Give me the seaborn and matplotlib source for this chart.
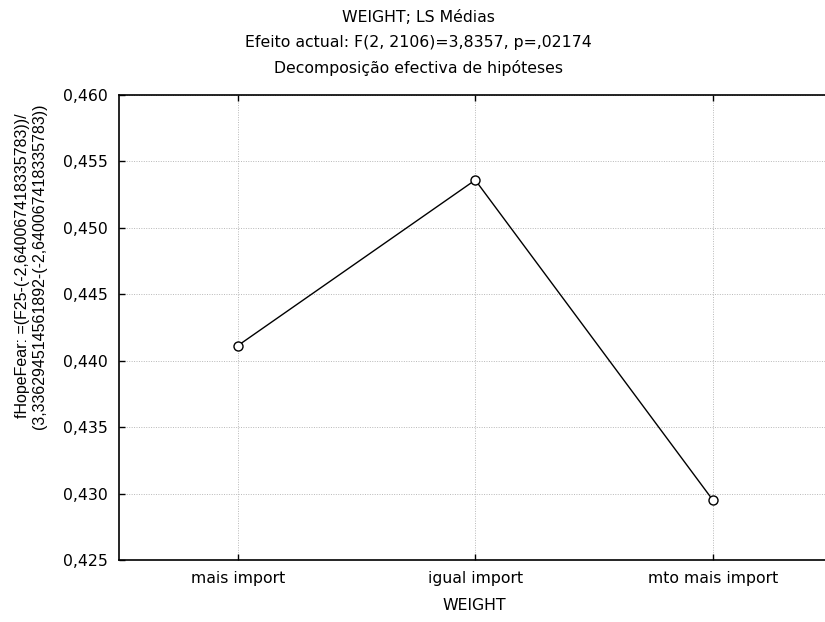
import matplotlib
matplotlib.use("Agg")
import matplotlib.pyplot as plt
import seaborn as sns
import numpy as np
import pandas as pd

# LS means of fHopeFear by WEIGHT level
categories = ["mais import", "igual import", "mto mais import"]
ls_means = [0.44113, 0.45360, 0.42952]
y_ticks = [0.425, 0.430, 0.435, 0.440, 0.445, 0.450, 0.455, 0.460]
y_tick_labels = ["0,425", "0,430", "0,435", "0,440", "0,445", "0,450", "0,455", "0,460"]

title_lines = [
    "WEIGHT; LS Médias",
    "Efeito actual: F(2, 2106)=3,8357, p=,02174",
    "Decomposição efectiva de hipóteses",
]
y_label = "fHopeFear: =(F25-(-2,640067418335783))/\n(3,336294514561892-(-2,640067418335783))"
x_label = "WEIGHT"

sns.set_theme(style="white")
plt.rcParams["font.family"] = ["DejaVu Sans"]
plt.rcParams["text.color"] = "black"
plt.rcParams["xtick.color"] = "black"
plt.rcParams["ytick.color"] = "black"
FS = 11.3

df = pd.DataFrame({"pos": np.arange(len(categories)), "mean": ls_means})

fig = plt.figure(figsize=(8.25, 6.22), dpi=100)
ax = fig.add_axes([119 / 825, 1 - 560 / 622, 712.5 / 825, 465 / 622])

sns.lineplot(data=df, x="pos", y="mean", ax=ax, color="black", linewidth=1.0,
             marker="o", markersize=6.5, markerfacecolor="white",
             markeredgecolor="black", markeredgewidth=1.0, sort=False)

ax.set_xlim(-0.5, 2.5)
ax.set_ylim(0.425, 0.460)
ax.set_xticks(df["pos"])
ax.set_xticklabels(categories, fontsize=FS)
ax.set_yticks(y_ticks)
ax.set_yticklabels(y_tick_labels, fontsize=FS)
ax.set_xlabel("")
ax.set_ylabel("")

ax.grid(True, color="#b8b8b8", linestyle=(0, (1, 1.5)), linewidth=0.7)
ax.tick_params(direction="in", length=4, width=1, color="black",
               top=True, right=True, bottom=True, left=True,
               labeltop=False, labelright=False, pad=8)
for s in ax.spines.values():
    s.set_color("black")
    s.set_linewidth(1.2)

# three-line title, centred on the figure
for y, line in zip([17, 43, 68], title_lines):
    fig.text(418 / 825, 1 - y / 622, line, ha="center", va="center", fontsize=FS)

fig.text(474 / 825, 1 - 606 / 622, x_label, ha="center", va="center", fontsize=FS)
fig.text(31 / 825, 1 - 266 / 622, y_label, ha="center", va="center",
         rotation=90, fontsize=11.5, linespacing=1.1,
         family=["Liberation Sans", "DejaVu Sans"])

fig.savefig("out.png", dpi=100)
